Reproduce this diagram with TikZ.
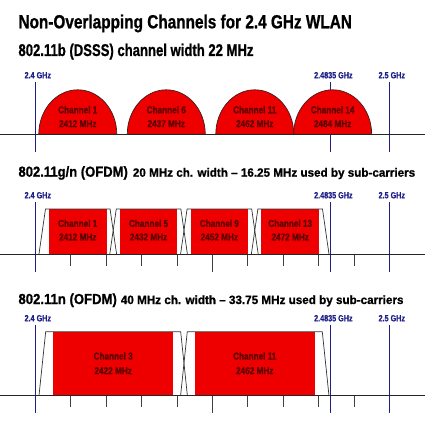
\documentclass[tikz,border=0pt]{standalone}
\usepackage{fontspec}
\usepackage{graphicx}
\setmainfont{Liberation Sans}
\newfontfamily\hdrfont{Liberation Sans Bold}[FakeBold=1]
\newfontfamily\lblfont{Liberation Sans Bold}[FakeStretch=0.8, FakeBold=0.8]
\newfontfamily\chfont{Liberation Sans Bold}[FakeStretch=0.82, FakeBold=1]
\definecolor{chred}{RGB}{238,0,0}
\definecolor{chtext}{RGB}{95,0,0}
\definecolor{ghz}{RGB}{30,30,135}
\definecolor{edge}{RGB}{60,30,30}
\newcommand\fx[1]{35.3+(#1-2400)*3.54}
\newcommand\hdr[3]{\resizebox{#1}{\height}{\fontsize{#2}{#2}\hdrfont #3}}
\tikzset{
  ghzline/.style={draw=ghz, line width=0.8pt},
  ghzlabel/.style={anchor=base, inner sep=0pt, text=ghz, font=\lblfont\fontsize{9}{9}\selectfont},
  axis/.style={draw=black!85, line width=0.8pt},
  tick/.style={draw=black!75, line width=0.7pt},
  hump/.style={fill=chred, draw=edge, line width=0.7pt},
  trap/.style={draw=black!80, line width=0.7pt},
  redfill/.style={fill=chred},
  chlabel/.style={inner sep=0pt, text=chtext, font=\chfont\fontsize{10}{10}\selectfont},
  header/.style={anchor=base west, inner sep=0pt},
}
\begin{document}
\begin{tikzpicture}[x=1pt,y=-1pt]
\useasboundingbox (0,0) rectangle (425,425);

% ---------- headers ----------
\node[header] (title) at (18.3,28.3) {\hdr{333.4pt}{19}{Non-Overlapping Channels for 2.4 GHz WLAN}};
\node[header] (h1) at (18.3,56) {\hdr{235pt}{17}{802.11b (DSSS) channel width 22 MHz}};
\node[header] (h2a) at (18.3,176.7) {\hdr{109.4pt}{14.5}{802.11g/n (OFDM)}};
\node[header] (h2b) at (132.7,176.7) {\hdr{282.3pt}{12}{20 MHz ch. width – 16.25 MHz used by sub-carriers}};
\node[header] (h3a) at (18.3,304) {\hdr{98.4pt}{14.5}{802.11n (OFDM)}};
\node[header] (h3b) at (120.7,304) {\hdr{282.6pt}{12}{40 MHz ch. width – 33.75 MHz used by sub-carriers}};

% ---------- frequency markers ----------
\foreach \f/\t [count=\i] in {2400/2.4 GHz, 2483.5/2.4835 GHz, 2500/2.5 GHz}{
  \node[ghzlabel] (la\i) at ({\fx{\f}+2.5},78.3) {\t};
  \node[ghzlabel] (lb\i) at ({\fx{\f}+2.5},198.3) {\t};
  \node[ghzlabel] (lc\i) at ({\fx{\f}+2.5},321.3) {\t};
  \draw[ghzline] ({\fx{\f}},81.7) -- ({\fx{\f}},151.7);
  \draw[ghzline] ({\fx{\f}},201.7) -- ({\fx{\f}},271.7);
  \draw[ghzline] ({\fx{\f}},324.5) -- ({\fx{\f}},413.3);
}

% ---------- section 1: 802.11b humps ----------
\foreach \c/\n [count=\i] in {2412/1, 2437/6, 2462/11, 2484/14}{
  \draw[hump] ({\fx{\c}-39},134.3) arc[start angle=180, end angle=360, x radius=39, y radius=44.5] -- cycle;
  \node[chlabel] (a\i t) at ({\fx{\c}},109.7) {Channel \n};
  \node[chlabel] (a\i f) at ({\fx{\c}},123.7) {\c\ MHz};
}
\draw[axis] (0,134.3) -- (425,134.3);

% ---------- section 2: 20 MHz OFDM ----------
\foreach \c/\n [count=\i] in {2412/1, 2432/5, 2452/9, 2472/13}{
  \fill[redfill] ({\fx{\c}-28.75},209) rectangle ({\fx{\c}+28.75},254.7);
  \draw[trap] ({\fx{\c}-38.9},254.7) -- ({\fx{\c}-32.3},209) -- ({\fx{\c}+32.3},209) -- ({\fx{\c}+38.9},254.7);
  \node[chlabel] (b\i t) at ({\fx{\c}},223.3) {Channel \n};
  \node[chlabel] (b\i f) at ({\fx{\c}},237) {\c\ MHz};
}
\foreach \f in {2410,2420,2430,2440,2460,2470,2480,2490}{
  \draw[tick] ({\fx{\f}},254.7) -- ({\fx{\f}},266);
}
\draw[tick] ({\fx{2450}},254.7) -- ({\fx{2450}},271.7);
\draw[axis] (0,254.7) -- (425,254.7);

% ---------- section 3: 40 MHz OFDM ----------
\foreach \c/\n [count=\i] in {2422/3, 2462/11}{
  \fill[redfill] ({\fx{\c}-60},331.7) rectangle ({\fx{\c}+60},395.7);
  \draw[trap] ({\fx{\c}-74.2},395.7) -- ({\fx{\c}-67.5},331.7) -- ({\fx{\c}+67.5},331.7) -- ({\fx{\c}+74.2},395.7);
  \node[chlabel] (c\i t) at ({\fx{\c}},356) {Channel \n};
  \node[chlabel] (c\i f) at ({\fx{\c}},370.7) {\c\ MHz};
}
\foreach \f in {2410,2420,2430,2440,2460,2470,2480,2490}{
  \draw[tick] ({\fx{\f}},395.7) -- ({\fx{\f}},406.7);
}
\draw[tick] ({\fx{2450}},395.7) -- ({\fx{2450}},413.3);
\draw[axis] (0,395.7) -- (425,395.7);
\end{tikzpicture}
\end{document}
